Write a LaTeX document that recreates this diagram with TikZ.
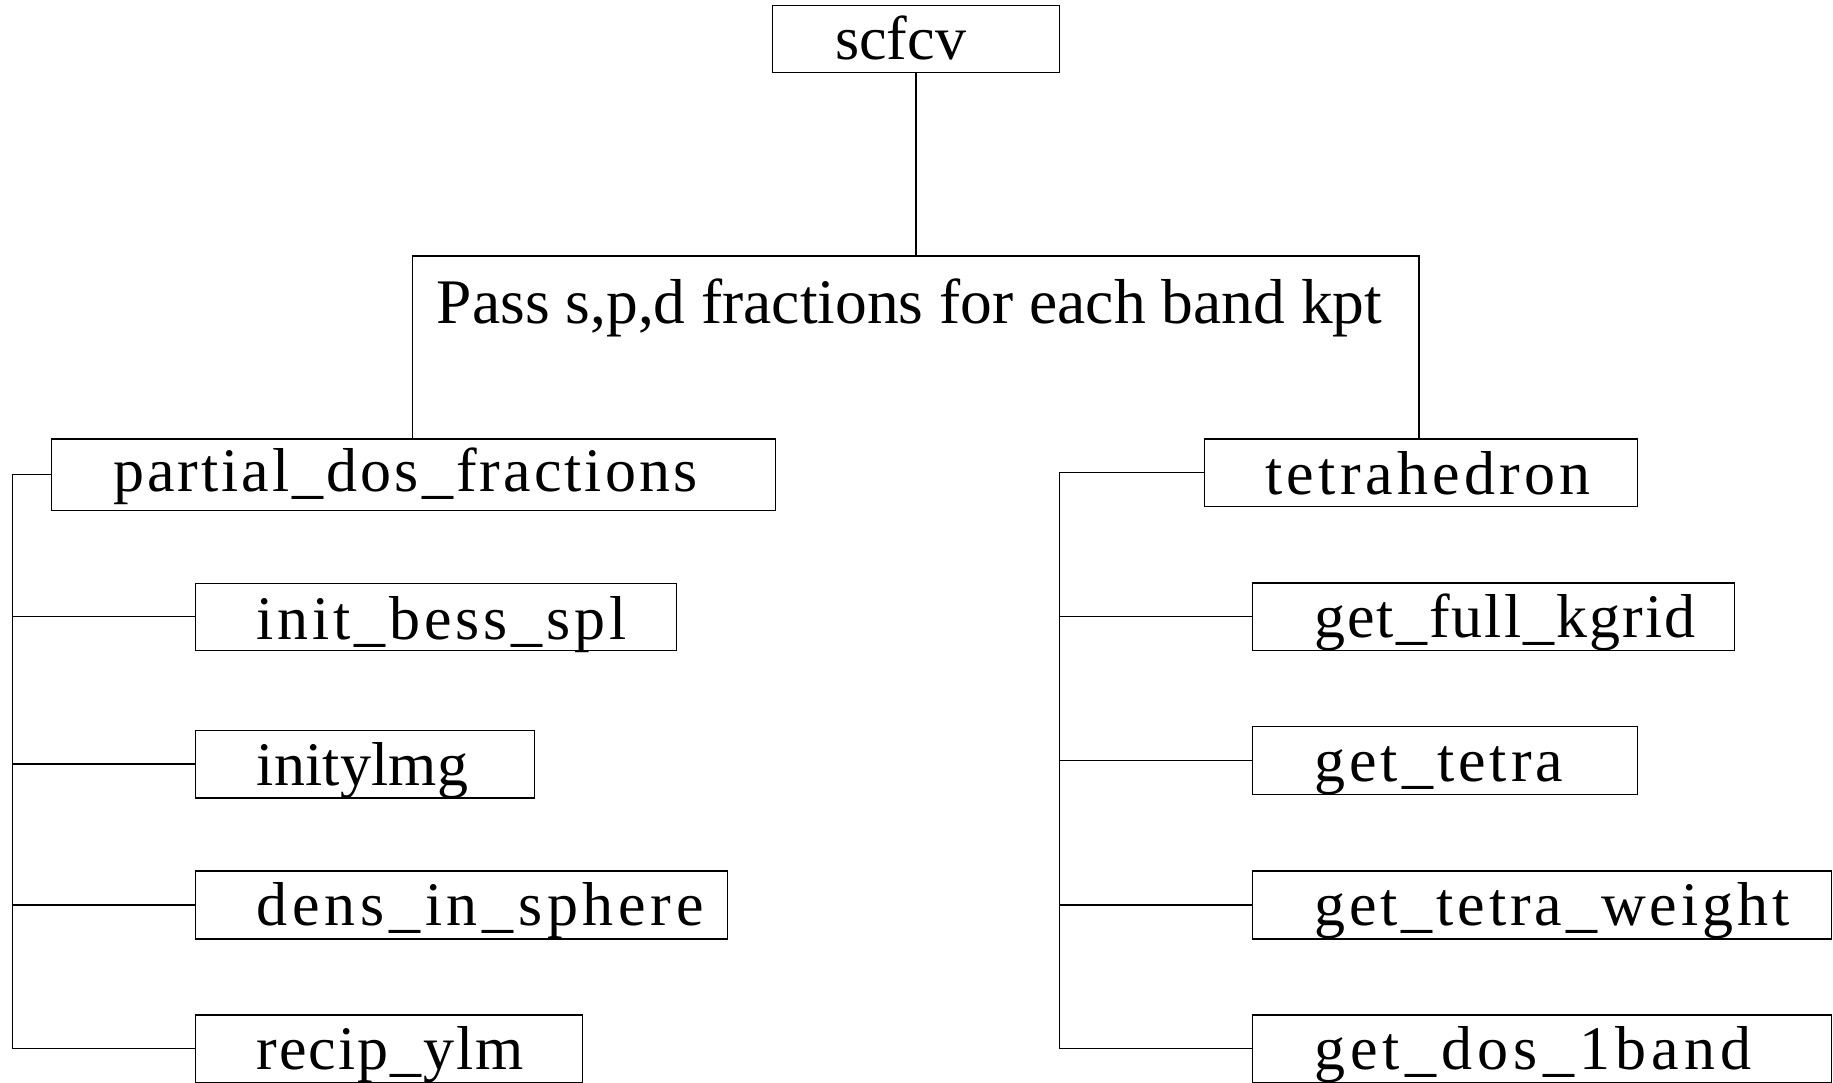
\documentclass[tikz,border=0pt]{standalone}
\usepackage{fontspec}
\setmainfont{Liberation Serif}
\begin{document}
\begin{tikzpicture}[x=1pt,y=-1pt,
  box/.style={draw=black,line width=1.3pt,fill=none,inner sep=0pt,anchor=north west},
  lbl/.style={inner sep=0pt,anchor=base west,font=\fontsize{62}{70}\selectfont\addfontfeature{LetterSpace=#1}},
  wire/.style={draw=black,line width=1.3pt}]
\useasboundingbox (0,0) rectangle (1833,1083);

% top routine
\node[box,minimum width=287.3pt,minimum height=67pt] (scfcv) at (771.7,5) {};
\node[inner sep=0pt,anchor=base west,font=\fontsize{62}{70}\selectfont] (scfcv-t) at (835,59.3) {scfcv};

% frame carrying the band fractions
\coordinate (fl) at (412.5,256);
\coordinate (fr) at (1419,256);
\node[inner sep=0pt,anchor=base west,font=\fontsize{63.5}{70}\selectfont] (pass-t) at (436.7,323) {Pass s,p,d fractions for each band kpt};

% left branch
\node[box,minimum width=724pt,minimum height=71.7pt] (partial) at (51,438.3) {};
\node[lbl=4.9] (partial-t) at (113,491) {partial\_dos\_fractions};
\node[box,minimum width=481pt,minimum height=67pt] (bess) at (195,582.5) {};
\node[lbl=6.2] (bess-t) at (256.7,639.3) {init\_bess\_spl};
\node[box,minimum width=338.5pt,minimum height=67.8pt] (ylmg) at (195,729.5) {};
\node[lbl=0.3] (ylmg-t) at (256.7,785) {initylmg};
\node[box,minimum width=531.5pt,minimum height=68pt] (dens) at (195,870.3) {};
\node[lbl=7.6] (dens-t) at (256.7,925) {dens\_in\_sphere};
\node[box,minimum width=387pt,minimum height=67.7pt] (recip) at (195,1014.3) {};
\node[lbl=3.1] (recip-t) at (256.7,1069) {recip\_ylm};

% right branch
\node[box,minimum width=433.3pt,minimum height=67.7pt] (tetra) at (1203.7,438.3) {};
\node[lbl=7] (tetra-t) at (1265,494.5) {tetrahedron};
\node[box,minimum width=482pt,minimum height=67.7pt] (kgrid) at (1252,582.3) {};
\node[lbl=3.3] (kgrid-t) at (1314,637) {get\_full\_kgrid};
\node[box,minimum width=385pt,minimum height=68pt] (gtetra) at (1252,726) {};
\node[lbl=6.5] (gtetra-t) at (1314,781) {get\_tetra};
\node[box,minimum width=579pt,minimum height=68pt] (weight) at (1252,870.3) {};
\node[lbl=6.3] (weight-t) at (1314,925) {get\_tetra\_weight};
\node[box,minimum width=579pt,minimum height=67.7pt] (dos) at (1252,1014.3) {};
\node[lbl=8.3] (dos-t) at (1314,1069) {get\_dos\_1band};

% bus positions
\coordinate (busL) at (12.8,0);
\coordinate (busR) at (1059.3,0);

% connectors
\draw[wire] (scfcv.south) -- (scfcv.south |- fl);
\draw[wire] (partial.north -| fl) -- (fl) -- (fr) -- (tetra.north -| fr);

\draw[wire] (partial.west) -- (partial.west -| busL) -- (recip.west -| busL) -- (recip.west);
\draw[wire] (bess.west) -- (bess.west -| busL);
\draw[wire] (ylmg.west) -- (ylmg.west -| busL);
\draw[wire] (dens.west) -- (dens.west -| busL);

\draw[wire] (tetra.west) -- (tetra.west -| busR) -- (dos.west -| busR) -- (dos.west);
\draw[wire] (kgrid.west) -- (kgrid.west -| busR);
\draw[wire] (gtetra.west) -- (gtetra.west -| busR);
\draw[wire] (weight.west) -- (weight.west -| busR);
\end{tikzpicture}
\end{document}
